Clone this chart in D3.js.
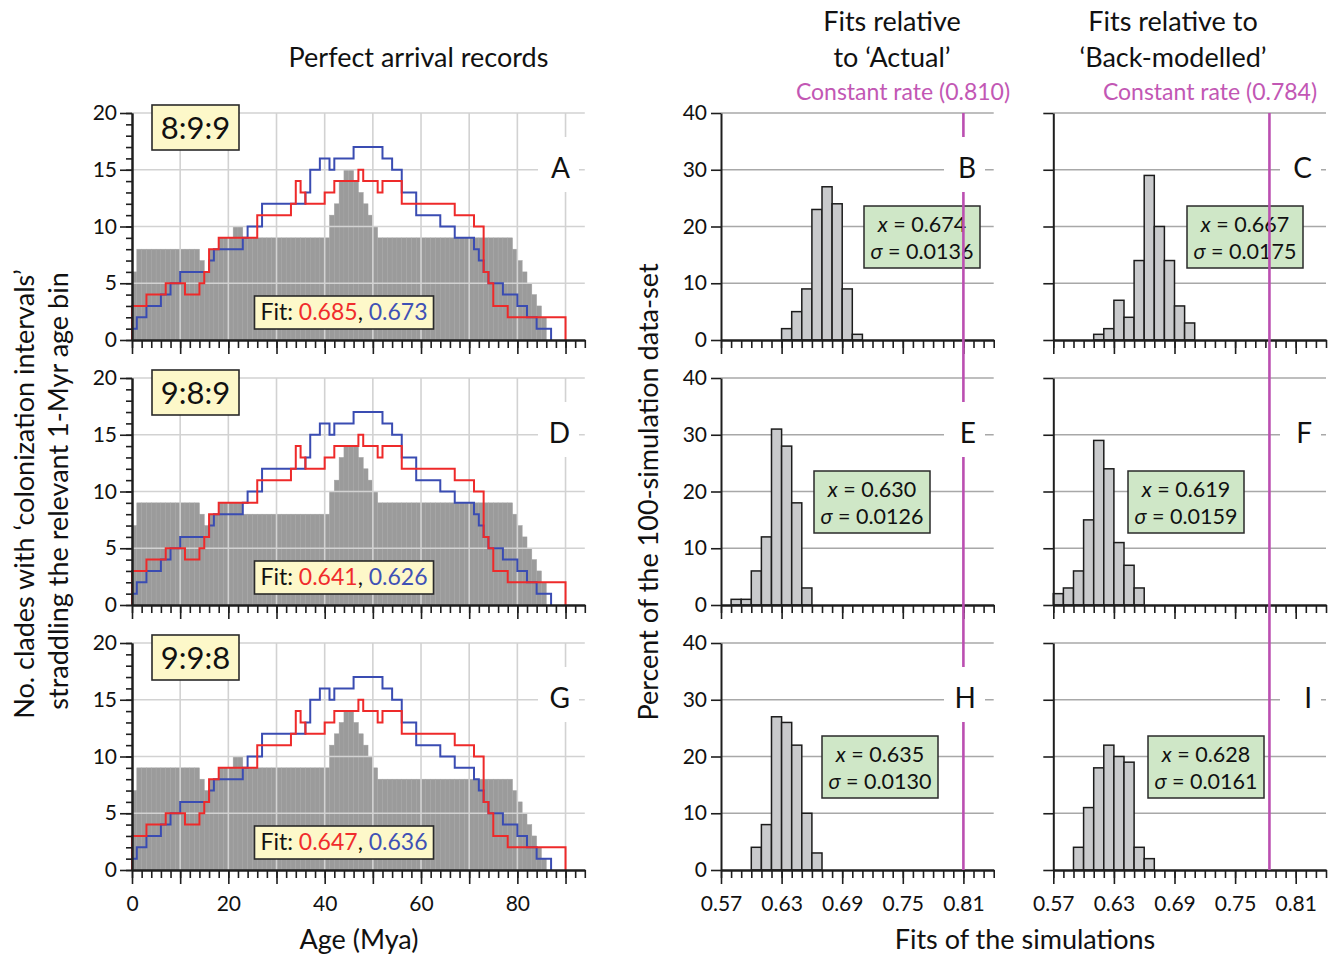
<!DOCTYPE html>
<html>
<head>
<meta charset="utf-8">
<script src="https://cdn.jsdelivr.net/npm/d3@7"></script>
<style>
  body { margin: 0; background: #fff; }
  svg text { font-family: Lato, "Open Sans", sans-serif; }
</style>
</head>
<body>
<svg id="chart" width="1335" height="954"></svg>
<script>
// ---------- data ----------
// Clades straddling each 1-Myr age bin (bin i covers i..i+1 Mya), one array per arrival-ratio scenario
const straddle899 = [6, 8,8,8,8,8,8,8,8,8,8,8,8,8, 7,6, 8,8, 9,9,9, 10,10,
  9,9,9,9,9,9,9,9,9,9,9,9,9,9,9,9,9,9,
  11,12,14,15,15,14,13,12,11,10,
  9,9,9,9,9,9,9,9,9,9,9,9,9,9,9,9,9,9,9,9,9,9,9,9,9,9,9,9,
  8,7,6,5,4,3,2];
const straddle989 = [7, 9,9,9,9,9,9,9,9,9,9,9,9,9, 8,7, 8,8, 9,9,9,9,9,
  8,8,8,8,8,8,8,8,8,8,8,8,8,8,8,8,8,8,
  10,11,13,14,14,14,13,12,11,10,
  9,9,9,9,9,9,9,9,9,9,9,9,9,9,9,9,9,9,9,9,9,9,9,9,9,9,9,9,
  8,7,6,5,4,3,2];
const straddle998 = [7, 9,9,9,9,9,9,9,9,9,9,9,9,9, 8,7, 8,8, 9,9,9, 10,10,
  9,9,9,9,9,9,9,9,9,9,9,9,9,9,9,9,9,9,
  11,12,13,14,14,13,12,11,10,9,
  8,8,8,8,8,8,8,8,8,8,8,8,8,8,8,8,8,8,8,8,8,8,8,8,8,8,8,8,
  7,6,5,4,3,2,1];

// Reference curves (per 1-Myr bin), red = 'Actual', blue = 'Back-modelled'
const actualCurve = [3,3,3, 4,4,4,4, 5,5,5,5, 4,4,4, 5, 6, 8,8,
  9,9,9,9,9,9,9,9, 11,11,11,11,11,11,11, 12, 14, 13, 12,12,12,12, 13,13,
  14,14,14,14,14, 15, 14,14,14, 13, 14,14,14,14,
  12,12,12,12,12,12,12,12,12,12,12, 11,11,11,11, 10,10, 6, 5, 3,3,3,
  2,2,2,2,2,2,2,2,2,2,2,2];
const backModelledCurve = [1, 2,2, 3,3,3, 4,4, 5,5, 6,6,6,6,6,6, 7, 8,8,8,8,8,8, 9,
  10,10,10, 12,12,12,12,12,12,12,12,12, 13, 15,15, 16,16, 15, 16,16,16,16,
  17,17,17,17,17,17, 16,16, 15,15, 13,13,13, 11,11,11,11,11, 10,10,10,
  9,9,9,9, 8, 7, 6, 5,5,5, 4,4,4, 3,3, 2,2, 1,1,1];

const ratioLabels = ["8:9:9", "9:8:9", "9:9:8"];
const fitActual = ["0.685", "0.641", "0.647"];
const fitBackModelled = ["0.673", "0.626", "0.636"];
const leftLetters = ["A", "D", "G"];
const ageTicks = [0, 20, 40, 60, 80];

// Histograms of simulation fits (percent of 100 runs), 0.01-wide bins
const countsB = [2, 5, 9, 23, 27, 24, 9, 1];
const countsC = [1, 2, 7, 4, 14, 29, 20, 14, 6, 3];
const countsE = [1, 1, 6, 12, 31, 28, 18, 3];
const countsF = [2, 3, 6, 15, 29, 24, 11, 7, 3];
const countsH = [4, 8, 27, 26, 22, 10, 3];
const countsI = [4, 11, 18, 22, 20, 19, 4, 2];
const binStarts = [0.63, 0.61, 0.58, 0.57, 0.60, 0.59];
const fitMeans = ["0.674", "0.667", "0.630", "0.619", "0.635", "0.628"];
const fitSigmas = ["0.0136", "0.0175", "0.0126", "0.0159", "0.0130", "0.0161"];
const histLetters = ["B", "C", "E", "F", "H", "I"];
const constantRate = [0.810, 0.784];
const fitTicks = [0.57, 0.63, 0.69, 0.75, 0.81];

// ---------- layout ----------
const svg = d3.select("#chart");
const rowTops = [113, 378, 643];
const rowH = 227;
const RED = "#ee2a2a", BLUE = "#3a4cb2", MAGENTA = "#bb4fb1";
const AXIS = "#1e1e1e";

const ageX = d3.scaleLinear().domain([0, 94]).range([132, 584.8]);
const fitX = [
  d3.scaleLinear().domain([0.57, 0.84]).range([721, 993.7]),
  d3.scaleLinear().domain([0.57, 0.84]).range([1053.3, 1326])
];
const grays = [straddle899, straddle989, straddle998];
const hists = [countsB, countsC, countsE, countsF, countsH, countsI];

function styleAxis(g, size) {
  g.select(".domain").attr("stroke", AXIS).attr("stroke-width", 2);
  g.selectAll(".tick line").attr("stroke", AXIS).attr("stroke-width", 1.6);
  g.selectAll(".tick text").attr("fill", "#111").attr("font-size", size)
    .attr("font-family", "Lato, 'Open Sans', sans-serif");
  g.attr("font-family", null).attr("font-size", null);
}

function letterBox(g, rightX, top, letter) {
  g.append("rect").attr("x", rightX - 32).attr("y", top + 24)
    .attr("width", 41).attr("height", 55).attr("fill", "#fff");
  g.append("text").attr("x", rightX).attr("y", top + 65)
    .attr("text-anchor", "end").attr("font-size", 28).attr("fill", "#111").text(letter);
}

function stepPath(vals, x, y) {
  const pts = [[0, 0]].concat(vals.map((v, i) => [i, v]), [[vals.length, 0]]);
  return d3.line().x(d => x(d[0])).y(d => y(d[1])).curve(d3.curveStepAfter)(pts);
}

// ---------- left column: straddle counts ----------
rowTops.forEach((top, r) => {
  const bottom = top + rowH;
  const y = d3.scaleLinear().domain([0, 20]).range([bottom, top]);
  const g = svg.append("g");

  g.selectAll("rect.bar").data(grays[r]).join("rect")
    .attr("x", (d, i) => ageX(i)).attr("width", (d, i) => ageX(i + 1) - ageX(i))
    .attr("y", d => y(d)).attr("height", d => bottom - y(d))
    .attr("fill", "#9b9b9b").attr("stroke", "#a4a4a4").attr("stroke-width", 0.5);

  g.selectAll("line.vg").data(d3.range(10, 91, 10)).join("line")
    .attr("x1", d => ageX(d)).attr("x2", d => ageX(d)).attr("y1", top).attr("y2", bottom)
    .attr("stroke", "#d2d2d2").attr("stroke-width", 1.6);
  g.selectAll("line.hg").data([5, 10, 15, 20]).join("line")
    .attr("x1", ageX(0)).attr("x2", ageX(94)).attr("y1", d => y(d)).attr("y2", d => y(d))
    .attr("stroke", "#d2d2d2").attr("stroke-width", 1.6);

  letterBox(g, 570, top, leftLetters[r]);

  g.append("path").attr("d", stepPath(backModelledCurve, ageX, y))
    .attr("fill", "none").attr("stroke", BLUE).attr("stroke-width", 2);
  g.append("path").attr("d", stepPath(actualCurve, ageX, y))
    .attr("fill", "none").attr("stroke", RED).attr("stroke-width", 2);

  // ratio tag
  g.append("rect").attr("x", 152).attr("y", top - 8).attr("width", 87).attr("height", 45)
    .attr("fill", "#fdf8c9").attr("stroke", "#2a2a2a").attr("stroke-width", 1.6);
  g.append("text").attr("x", 195.5).attr("y", top + 26).attr("text-anchor", "middle")
    .attr("font-size", 31).attr("fill", "#111").text(ratioLabels[r]);

  // fit tag
  g.append("rect").attr("x", 254.5).attr("y", top + 183).attr("width", 179).attr("height", 33)
    .attr("fill", "#fdf8c9").attr("stroke", "#2a2a2a").attr("stroke-width", 1.6);
  const ft = g.append("text").attr("x", 344).attr("y", top + 207).attr("text-anchor", "middle")
    .attr("font-size", 23).attr("fill", "#111");
  ft.append("tspan").text("Fit: ");
  ft.append("tspan").attr("fill", "#f02c2c").text(fitActual[r]);
  ft.append("tspan").text(", ");
  ft.append("tspan").attr("fill", "#3f51b5").text(fitBackModelled[r]);

  // axes
  const ym = g.append("g").attr("transform", `translate(${ageX(0)},0)`)
    .call(d3.axisLeft(y).tickValues(d3.range(0, 21)).tickSize(6).tickFormat("").tickSizeOuter(0));
  styleAxis(ym, 21);
  const yM = g.append("g").attr("transform", `translate(${ageX(0)},0)`)
    .call(d3.axisLeft(y).tickValues([0, 5, 10, 15, 20]).tickSize(12).tickPadding(3).tickSizeOuter(0));
  styleAxis(yM, 21);

  const xm = g.append("g").attr("transform", `translate(0,${bottom})`)
    .call(d3.axisBottom(ageX).tickValues(d3.range(0, 95, 2)).tickSize(8).tickFormat("").tickSizeOuter(0));
  styleAxis(xm, 21);
  const xM = g.append("g").attr("transform", `translate(0,${bottom})`)
    .call(d3.axisBottom(ageX).tickValues(d3.range(0, 91, 10)).tickSize(14).tickPadding(12)
      .tickFormat(d => (r === 2 && ageTicks.includes(d)) ? d : "").tickSizeOuter(0));
  styleAxis(xM, 21);
});

// ---------- right columns: histograms of simulation fits ----------
const boxLeft = [[864, 1187], [814, 1128], [822, 1148]];
rowTops.forEach((top, r) => {
  const bottom = top + rowH;
  const y = d3.scaleLinear().domain([0, 40]).range([bottom, top]);
  [0, 1].forEach(c => {
    const k = r * 2 + c;
    const x = fitX[c];
    const g = svg.append("g");

    g.selectAll("line.hg").data([10, 20, 30, 40]).join("line")
      .attr("x1", x(0.57)).attr("x2", x(0.84)).attr("y1", d => y(d)).attr("y2", d => y(d))
      .attr("stroke", "#a8a8a8").attr("stroke-width", 1.6);

    g.selectAll("rect.bar").data(hists[k]).join("rect")
      .attr("x", (d, i) => x(binStarts[k] + i * 0.01))
      .attr("width", (d, i) => x(binStarts[k] + (i + 1) * 0.01) - x(binStarts[k] + i * 0.01))
      .attr("y", d => y(d)).attr("height", d => bottom - y(d))
      .attr("fill", "#c9cacc").attr("stroke", "#1c1c1c").attr("stroke-width", 1.5);

    // mean / sigma tag
    const bx = boxLeft[r][c], by = top + 93;
    g.append("rect").attr("x", bx).attr("y", by).attr("width", 116).attr("height", 62)
      .attr("fill", "#cfe7c7").attr("stroke", "#2a2a2a").attr("stroke-width", 1.5);
    const t1 = g.append("text").attr("x", bx + 58).attr("y", by + 26).attr("text-anchor", "middle")
      .attr("font-size", 21.5).attr("fill", "#111");
    t1.append("tspan").attr("font-style", "italic").text("x");
    t1.append("tspan").text(" = " + fitMeans[k]);
    const t2 = g.append("text").attr("x", bx + 58).attr("y", by + 53).attr("text-anchor", "middle")
      .attr("font-size", 21.5).attr("fill", "#111");
    t2.append("tspan").attr("font-style", "italic").text("σ");
    t2.append("tspan").text(" = " + fitSigmas[k]);

    // axes
    const yA = g.append("g").attr("transform", `translate(${x(0.57)},0)`)
      .call(d3.axisLeft(y).tickValues([0, 10, 20, 30, 40]).tickSize(10).tickPadding(4)
        .tickFormat(d => c === 0 ? d : "").tickSizeOuter(0));
    styleAxis(yA, 21);
    const xm = g.append("g").attr("transform", `translate(0,${bottom})`)
      .call(d3.axisBottom(x).tickValues(d3.range(57, 85).map(d => d / 100)).tickSize(8)
        .tickFormat("").tickSizeOuter(0));
    styleAxis(xm, 21);
    const xM = g.append("g").attr("transform", `translate(0,${bottom})`)
      .call(d3.axisBottom(x).tickValues(fitTicks).tickSize(14).tickPadding(12)
        .tickFormat(d => r === 2 ? d3.format(".2f")(d) : "").tickSizeOuter(0));
    styleAxis(xM, 21);
  });
});

// constant-rate reference lines across all three rows
[0, 1].forEach(c => {
  svg.append("line").attr("x1", fitX[c](constantRate[c])).attr("x2", fitX[c](constantRate[c]))
    .attr("y1", rowTops[0]).attr("y2", rowTops[2] + rowH)
    .attr("stroke", MAGENTA).attr("stroke-width", 2.6);
});

// panel letters with white backing
rowTops.forEach((top, r) => {
  [0, 1].forEach(c => {
    letterBox(svg.append("g"), c === 0 ? 976 : 1312, top, histLetters[r * 2 + c]);
  });
});

// ---------- titles and axis titles ----------
function label(x, y, txt, size, opts = {}) {
  const t = svg.append("text").attr("x", x).attr("y", y).attr("text-anchor", "middle")
    .attr("font-size", size).attr("fill", opts.fill || "#111").text(txt);
  if (opts.rotate) t.attr("transform", `rotate(-90,${x},${y})`);
  return t;
}
label(418.5, 67, "Perfect arrival records", 27);
label(892, 31, "Fits relative", 27);
label(892, 67, "to ‘Actual’", 27);
label(1173, 31, "Fits relative to", 27);
label(1173, 67, "‘Back-modelled’", 27);
label(903, 100, "Constant rate (0.810)", 23, { fill: "#c257b4" });
label(1210, 100, "Constant rate (0.784)", 23, { fill: "#c257b4" });
label(34, 494, "No. clades with ‘colonization intervals’", 27, { rotate: true });
label(68, 491, "straddling the relevant 1-Myr age bin", 27, { rotate: true });
label(658, 492, "Percent of the 100-simulation data-set", 27, { rotate: true });
label(359, 949, "Age (Mya)", 27);
label(1025, 949, "Fits of the simulations", 27);
</script>
</body>
</html>
